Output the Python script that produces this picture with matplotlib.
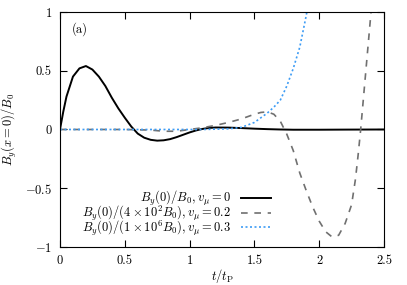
import matplotlib
matplotlib.use("Agg")
import matplotlib.pyplot as plt
from matplotlib.legend import Legend

plt.rcParams['font.family'] = 'serif'
plt.rcParams['font.serif'] = ['cmr10']
plt.rcParams['mathtext.fontset'] = 'cm'
plt.rcParams['axes.formatter.use_mathtext'] = True

# black solid: By(0)/B0, v_mu = 0
t_a = [0, 0.025, 0.05, 0.1, 0.15, 0.2, 0.25, 0.3, 0.35, 0.4, 0.45, 0.5, 0.55,
       0.6, 0.65, 0.7, 0.75, 0.8, 0.85, 0.9, 0.95, 1.0, 1.05, 1.1, 1.15, 1.2,
       1.3, 1.4, 1.5, 1.6, 1.7, 1.8, 2.0, 2.2, 2.5]
v_a = [0, 0.15, 0.28, 0.45, 0.52, 0.54, 0.51, 0.45, 0.37, 0.27, 0.18, 0.1, 0.025,
       -0.035, -0.07, -0.088, -0.095, -0.092, -0.082, -0.065, -0.045, -0.025,
       -0.008, 0.005, 0.013, 0.017, 0.016, 0.012, 0.007, 0.003, 0.0, -0.002,
       -0.002, -0.001, 0]

# gray dashed: v_mu = 0.2
t_b = [0, 0.5, 0.7, 0.8, 0.9, 1.0, 1.1, 1.2, 1.3, 1.4, 1.5, 1.55, 1.6, 1.65,
       1.7, 1.75, 1.8, 1.85, 1.9, 1.95, 2.0, 2.05, 2.1, 2.15, 2.2, 2.25, 2.28,
       2.3, 2.32, 2.34, 2.36, 2.38, 2.4, 2.42]
v_b = [0, 0, -0.005, -0.015, -0.015, 0.0, 0.015, 0.035, 0.06, 0.09, 0.13, 0.145,
       0.15, 0.13, 0.07, -0.04, -0.18, -0.37, -0.52, -0.66, -0.78, -0.87,
       -0.915, -0.9, -0.8, -0.64, -0.42, -0.22, 0.0, 0.25, 0.5, 0.75, 1.0, 1.25]

# blue dotted: v_mu = 0.3
t_c = [0, 0.5, 1.0, 1.1, 1.2, 1.3, 1.4, 1.5, 1.55, 1.6, 1.65, 1.7, 1.75, 1.8,
       1.85, 1.9, 1.92]
v_c = [0, 0, 0, 0.0, 0.003, 0.006, 0.018, 0.06, 0.1, 0.14, 0.19, 0.25, 0.37,
       0.52, 0.7, 0.97, 1.1]

labels = [r'$B_y(0)/B_0, v_\mu=0$',
          r'$B_y(0)/(4\times10^2B_0), v_\mu=0.2$',
          r'$B_y(0)/(1\times10^6B_0), v_\mu=0.3$']

fig = plt.figure(figsize=(4.07, 2.85), dpi=100)
ax = fig.add_axes([0.1474, 0.1333, 0.7961, 0.8247])

la, = ax.plot(t_a, v_a, color='black', lw=1.4)
lb, = ax.plot(t_b, v_b, color='#707070', lw=1.2, dashes=(4, 4))
lc, = ax.plot(t_c, v_c, color='#3d9cf5', lw=1.2, dashes=(1.2, 1.5))

ax.set_xlim(0, 2.5)
ax.set_ylim(-1, 1)
ax.set_xticks([0, 0.5, 1, 1.5, 2, 2.5])
ax.set_xticklabels(['0', '0.5', '1', '1.5', '2', '2.5'])
ax.set_yticks([-1, -0.5, 0, 0.5, 1])
ax.set_yticklabels(['$-1$', '$-0.5$', '0', '0.5', '1'])
ax.tick_params(direction='in', top=True, right=True, length=5, labelsize=9, pad=6)

ax.set_xlabel(r'$t/t_{\rm P}$', fontsize=9, labelpad=0)
ax.set_ylabel(r'$B_y(x=0)/B_0$', fontsize=9, labelpad=4)
ax.text(0.035, 0.955, '(a)', transform=ax.transAxes, fontsize=9, va='top')

# one legend per row so the rows sit tight like the original
rows_y = [0.205, 0.142, 0.08]
for line, lab, ry in zip([la, lb, lc], labels, rows_y):
    leg = Legend(ax, [line], [lab], loc='center right', bbox_to_anchor=(0.65, ry),
                 frameon=False, markerfirst=False, fontsize=9, handlelength=2.4,
                 borderaxespad=0, borderpad=0)
    ax.add_artist(leg)

fig.savefig('out.png', dpi=100)
